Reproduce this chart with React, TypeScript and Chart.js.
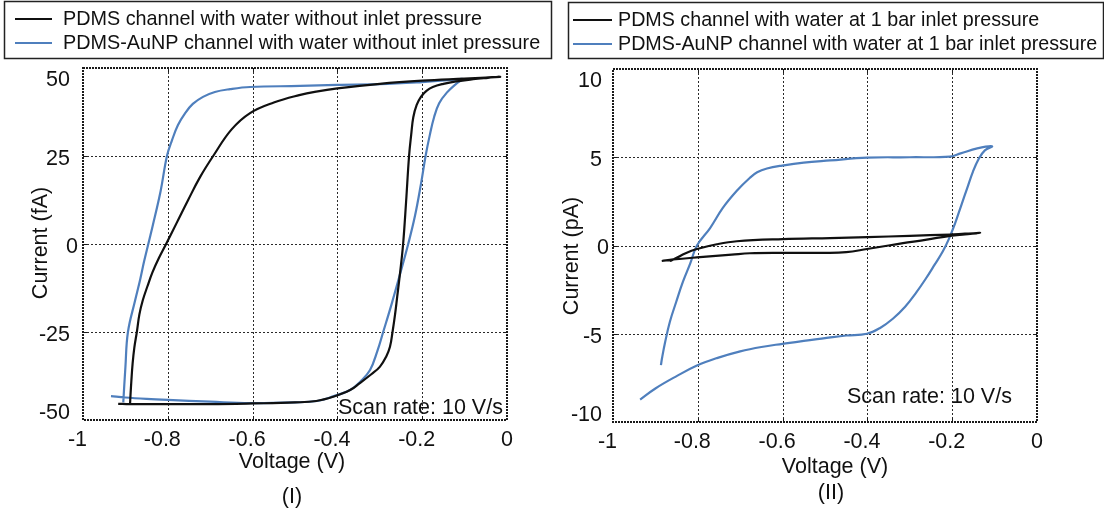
import React, { useEffect, useRef } from "react";
import { Chart, registerables } from "chart.js";

Chart.register(...registerables);

const FONT = '"Liberation Sans", Arial, Helvetica, sans-serif';
const BLACK = "#101010";
const BLUE = "#4f7fbd";

// ---- axes / ticks ----
const voltageTicks = [-1, -0.8, -0.6, -0.4, -0.2, 0];
const voltageTickLabels = ["-1", "-0.8", "-0.6", "-0.4", "-0.2", "0"];
const currentTicksI = [-50, -25, 0, 25, 50];
const currentTicksII = [-10, -5, 0, 5, 10];

// ---- panel (I): without inlet pressure (fA) ----
const pdmsVoltageI = [
  -0.917, -0.89, -0.8, -0.7, -0.6, -0.5, -0.45, -0.41, -0.37, -0.347, -0.32, -0.3, -0.285, -0.276, -0.27, -0.264,
  -0.259, -0.252, -0.245, -0.238, -0.231, -0.226, -0.221, -0.213, -0.203, -0.19, -0.175, -0.15, -0.12, -0.08, -0.045,
  -0.016, -0.05, -0.1, -0.2, -0.3, -0.4, -0.45, -0.49, -0.55, -0.606, -0.65, -0.693, -0.724, -0.752, -0.779, -0.804,
  -0.821, -0.836, -0.848, -0.859, -0.867, -0.873, -0.879, -0.883, -0.886, -0.888, -0.889,
];
const pdmsCurrentI = [
  -45.4, -45.5, -45.5, -45.5, -45.3, -45.0, -44.6, -43.4, -41.5, -39.5, -37.0, -34.9, -32.0, -29.2, -25, -20, -15, -8,
  0, 12, 25, 31, 36, 39.5, 41.8, 43.5, 44.6, 45.5, 46.2, 46.8, 47.2, 47.5, 47.3, 47.0, 46.4, 45.5, 44.2, 43.3, 42.3,
  40.2, 37.2, 32.5, 25, 19, 12.5, 6, 0, -4, -8, -12, -16, -20, -25, -29.5, -34, -39, -43, -45.4,
];
const aunpVoltageI = [
  -0.934, -0.9, -0.85, -0.8, -0.7, -0.606, -0.5, -0.448, -0.41, -0.37, -0.345, -0.323, -0.306, -0.292, -0.272, -0.251,
  -0.233, -0.217, -0.203, -0.192, -0.182, -0.172, -0.16, -0.142, -0.12, -0.104, -0.13, -0.2, -0.3, -0.401, -0.488,
  -0.606, -0.653, -0.689, -0.717, -0.741, -0.759, -0.776, -0.79, -0.802, -0.817, -0.836, -0.846, -0.856, -0.865, -0.877,
  -0.894, -0.9, -0.905,
];
const aunpCurrentI = [
  -43.2, -43.6, -44.0, -44.3, -44.8, -45.2, -45.0, -44.6, -43.3, -41.5, -39.0, -35.8, -30.5, -25, -17, -8, 0, 8, 17, 25,
  31, 36, 40, 43, 45.5, 46.9, 46.6, 46.0, 45.4, 45.2, 44.9, 44.6, 44.0, 43.2, 41.8, 39.8, 37.2, 33.8, 29.5, 25, 15, 5, 0,
  -5, -10, -16, -25, -35, -45,
];

// ---- panel (II): 1 bar inlet pressure (pA) ----
const pdmsVoltageII = [
  -0.885, -0.858, -0.795, -0.72, -0.677, -0.6, -0.5, -0.45, -0.401, -0.35, -0.316, -0.26, -0.205, -0.17, -0.134, -0.17,
  -0.205, -0.3, -0.4, -0.488, -0.6, -0.708, -0.755, -0.802, -0.83, -0.85, -0.866,
];
const pdmsCurrentII = [
  -0.88, -0.79, -0.66, -0.52, -0.44, -0.42, -0.42, -0.38, -0.2, 0.0, 0.13, 0.33, 0.55, 0.63, 0.71, 0.67, 0.62, 0.55,
  0.47, 0.42, 0.36, 0.24, 0.07, -0.2, -0.45, -0.7, -0.88,
];
const aunpVoltageII = [
  -0.936, -0.9, -0.85, -0.802, -0.755, -0.7, -0.65, -0.6, -0.55, -0.5, -0.45, -0.401, -0.37, -0.34, -0.311, -0.285,
  -0.262, -0.241, -0.222, -0.208, -0.193, -0.179, -0.165, -0.151, -0.137, -0.123, -0.106, -0.141, -0.18, -0.205, -0.3,
  -0.4, -0.488, -0.55, -0.601, -0.637, -0.66, -0.677, -0.708, -0.741, -0.771, -0.802, -0.818, -0.835, -0.851, -0.866,
  -0.877, -0.884, -0.887,
];
const aunpCurrentII = [
  -8.73, -8.1, -7.4, -6.8, -6.38, -6.0, -5.75, -5.57, -5.4, -5.25, -5.1, -5.0, -4.67, -4.15, -3.47, -2.67, -1.87, -1.07,
  -0.33, 0.36, 1.27, 2.25, 3.22, 4.19, 4.93, 5.39, 5.62, 5.5, 5.22, 5.04, 5.0, 4.98, 4.82, 4.7, 4.53, 4.36, 4.15, 3.84,
  3.1, 2.13, 0.99, 0.0, -1.03, -2.05, -3.2, -4.33, -5.47, -6.33, -6.78,
];

const legendI = [
  "PDMS channel with water without inlet pressure",
  "PDMS-AuNP channel with water without inlet pressure",
];
const legendII = [
  "PDMS channel with water at 1 bar inlet pressure",
  "PDMS-AuNP channel with water at 1 bar inlet pressure",
];

const xTitle = "Voltage (V)";
const yTitleI = "Current (fA)";
const yTitleII = "Current (pA)";
const scanRateText = "Scan rate: 10 V/s";

type Layout = {
  width: number;
  padding: { left: number; right: number; top: number; bottom: number };
  box: { x: number; y: number; w: number; h: number };
  lineX: [number, number];
  textX: number;
  legendFont: number;
  rowsY: [number, number];
  xTickY: number;
  yTickRight: number;
  zeroShift: number;
  yTitlePos: [number, number];
  xTitlePos: [number, number];
  captionPos: [number, number];
  scanPos: [number, number];
};

const layoutI: Layout = {
  width: 560,
  padding: { left: 83, right: 53, top: 68, bottom: 96 },
  box: { x: 4, y: 1, w: 547, h: 57 },
  lineX: [15, 52],
  textX: 63,
  legendFont: 19.8,
  rowsY: [19, 43],
  xTickY: 440,
  yTickRight: 70,
  zeroShift: 8,
  yTitlePos: [41, 243],
  xTitlePos: [292, 462],
  captionPos: [292, 497],
  scanPos: [338, 408],
};

const layoutII: Layout = {
  width: 544,
  padding: { left: 53, right: 67, top: 69, bottom: 94 },
  box: { x: 8, y: 2, w: 535, h: 56 },
  lineX: [13, 52],
  textX: 58,
  legendFont: 19.7,
  rowsY: [20, 44],
  xTickY: 442,
  yTickRight: 42,
  zeroShift: 7,
  yTitlePos: [12, 256],
  xTitlePos: [275, 467],
  captionPos: [271, 493],
  scanPos: [287, 397],
};

function toPoints(xs: number[], ys: number[]) {
  return xs.map((x, i) => ({ x, y: ys[i] }));
}

function makePlugin(L: Layout, yTicks: number[], yTitle: string, caption: string, legend: string[]) {
  return {
    id: "paperFrame",
    beforeDatasetsDraw(chart: any) {
      const { ctx, chartArea: a, scales } = chart;
      const xs = scales.x;
      const ys = scales.y;
      ctx.save();
      ctx.strokeStyle = "#2a2a2a";
      ctx.lineWidth = 1;
      ctx.setLineDash([2, 2]);
      voltageTicks.slice(1, -1).forEach((v) => {
        const px = Math.round(xs.getPixelForValue(v)) + 0.5;
        ctx.beginPath();
        ctx.moveTo(px, a.top);
        ctx.lineTo(px, a.bottom);
        ctx.stroke();
      });
      yTicks.slice(1, -1).forEach((v) => {
        const py = Math.round(ys.getPixelForValue(v)) + 0.5;
        ctx.beginPath();
        ctx.moveTo(a.left, py);
        ctx.lineTo(a.right, py);
        ctx.stroke();
      });
      ctx.restore();
    },
    afterDatasetsDraw(chart: any) {
      const { ctx, chartArea: a, scales } = chart;
      const xs = scales.x;
      const ys = scales.y;
      ctx.save();
      // dotted frame
      ctx.strokeStyle = "#1a1a1a";
      ctx.lineWidth = 2;
      ctx.setLineDash([2, 1]);
      ctx.strokeRect(a.left, a.top, a.right - a.left, a.bottom - a.top);
      ctx.setLineDash([]);
      ctx.lineWidth = 1;
      // small inner tick marks
      voltageTicks.slice(1, -1).forEach((v) => {
        const px = Math.round(xs.getPixelForValue(v)) + 0.5;
        ctx.beginPath();
        ctx.moveTo(px, a.top);
        ctx.lineTo(px, a.top + 4);
        ctx.moveTo(px, a.bottom);
        ctx.lineTo(px, a.bottom - 4);
        ctx.stroke();
      });
      yTicks.slice(1, -1).forEach((v) => {
        const py = Math.round(ys.getPixelForValue(v)) + 0.5;
        ctx.beginPath();
        ctx.moveTo(a.left, py);
        ctx.lineTo(a.left + 4, py);
        ctx.moveTo(a.right, py);
        ctx.lineTo(a.right - 4, py);
        ctx.stroke();
      });

      ctx.fillStyle = "#111";
      ctx.font = `21.5px ${FONT}`;
      ctx.textBaseline = "middle";
      // x tick labels
      ctx.textAlign = "center";
      voltageTicks.forEach((v, i) => {
        const px = xs.getPixelForValue(v) - (v < 0 ? 5.5 : 0);
        ctx.fillText(voltageTickLabels[i], px, L.xTickY);
      });
      // y tick labels
      ctx.textAlign = "right";
      yTicks.forEach((v) => {
        let py = ys.getPixelForValue(v) + 3;
        py = Math.max(a.top + 12, Math.min(a.bottom - 7, py));
        ctx.fillText(String(v), L.yTickRight + (v === 0 ? L.zeroShift : 0), py);
      });
      // axis titles
      ctx.textAlign = "center";
      ctx.fillText(xTitle, L.xTitlePos[0], L.xTitlePos[1]);
      ctx.fillText(caption, L.captionPos[0], L.captionPos[1]);
      ctx.save();
      ctx.translate(L.yTitlePos[0], L.yTitlePos[1]);
      ctx.rotate(-Math.PI / 2);
      ctx.fillText(yTitle, 0, 0);
      ctx.restore();
      // scan rate
      ctx.textAlign = "left";
      ctx.fillText(scanRateText, L.scanPos[0], L.scanPos[1]);

      // legend box
      ctx.fillStyle = "#ffffff";
      ctx.fillRect(L.box.x, L.box.y, L.box.w, L.box.h);
      ctx.strokeStyle = "#222";
      ctx.lineWidth = 1.5;
      ctx.strokeRect(L.box.x + 0.5, L.box.y + 0.5, L.box.w, L.box.h);
      const colors = chart.data.datasets.map((d: any) => d.borderColor);
      ctx.font = `${L.legendFont}px ${FONT}`;
      ctx.textAlign = "left";
      legend.forEach((t, i) => {
        const y = L.rowsY[i];
        ctx.strokeStyle = colors[i];
        ctx.lineWidth = 2;
        ctx.beginPath();
        ctx.moveTo(L.lineX[0], y);
        ctx.lineTo(L.lineX[1], y);
        ctx.stroke();
        ctx.fillStyle = "#111";
        ctx.fillText(t, L.textX, y + 1);
      });
      ctx.restore();
    },
  };
}

function Panel(props: {
  left: number;
  L: Layout;
  yMin: number;
  yMax: number;
  yTicks: number[];
  yTitle: string;
  caption: string;
  legend: string[];
  series: { label: string; xs: number[]; ys: number[]; color: string }[];
}) {
  const ref = useRef<HTMLCanvasElement | null>(null);
  useEffect(() => {
    if (!ref.current) return;
    const { L } = props;
    const chart = new Chart(ref.current, {
      type: "scatter",
      data: {
        datasets: props.series.map((s) => ({
          label: s.label,
          data: toPoints(s.xs, s.ys),
          borderColor: s.color,
          backgroundColor: s.color,
          borderWidth: 2.2,
          pointRadius: 0,
          showLine: true,
          tension: 0.4,
          fill: false,
        })),
      },
      options: {
        responsive: false,
        animation: false,
        devicePixelRatio: 1,
        layout: { padding: L.padding },
        plugins: { legend: { display: false }, tooltip: { enabled: false } },
        scales: {
          x: { type: "linear", min: -1, max: 0, display: false },
          y: { type: "linear", min: props.yMin, max: props.yMax, display: false },
        },
      },
      plugins: [makePlugin(L, props.yTicks, props.yTitle, props.caption, props.legend)],
    } as any);
    return () => chart.destroy();
  }, []);
  return (
    <canvas
      ref={ref}
      width={props.L.width}
      height={516}
      style={{ position: "absolute", left: props.left, top: 0, width: props.L.width, height: 516 }}
    />
  );
}

export default function App() {
  return (
    <div style={{ position: "fixed", left: 0, top: 0, width: 1104, height: 516, background: "#fff" }}>
      <Panel
        left={0}
        L={layoutI}
        yMin={-50}
        yMax={50}
        yTicks={currentTicksI}
        yTitle={yTitleI}
        caption="(I)"
        legend={legendI}
        series={[
          { label: legendI[0], xs: pdmsVoltageI, ys: pdmsCurrentI, color: BLACK },
          { label: legendI[1], xs: aunpVoltageI, ys: aunpCurrentI, color: BLUE },
        ]}
      />
      <Panel
        left={560}
        L={layoutII}
        yMin={-10}
        yMax={10}
        yTicks={currentTicksII}
        yTitle={yTitleII}
        caption="(II)"
        legend={legendII}
        series={[
          { label: legendII[0], xs: pdmsVoltageII, ys: pdmsCurrentII, color: BLACK },
          { label: legendII[1], xs: aunpVoltageII, ys: aunpCurrentII, color: BLUE },
        ]}
      />
    </div>
  );
}
